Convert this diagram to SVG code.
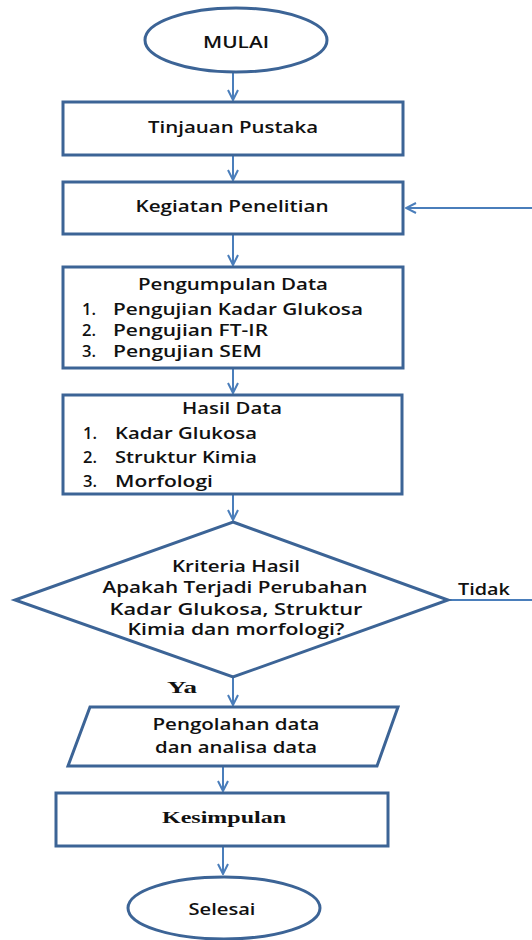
<svg xmlns="http://www.w3.org/2000/svg" width="532" height="940" viewBox="0 0 532 940">
<style>
.shape{fill:#fff;stroke:#3C6496;stroke-width:3}
.conn{fill:none;stroke:#4A7EBB;stroke-width:2}
.t{font-family:"Open Sans","Liberation Sans",sans-serif;font-weight:600;font-size:15.5px;fill:#111}
.s{font-family:"Liberation Serif",serif;font-weight:bold;font-size:16px;fill:#111}
.c{text-anchor:middle}
</style>
<defs>
<marker id="arr" viewBox="0 0 12 12" refX="11" refY="6" markerWidth="12" markerHeight="12" markerUnits="userSpaceOnUse" orient="auto">
<path d="M1,1 L11,6 L1,11" fill="none" stroke="#4A7EBB" stroke-width="2"/>
</marker>
</defs>
<g id="connectors">
<line class="conn" x1="233" y1="73" x2="233" y2="100" marker-end="url(#arr)"/>
<line class="conn" x1="233" y1="155" x2="233" y2="180" marker-end="url(#arr)"/>
<line class="conn" x1="233" y1="234" x2="233" y2="265" marker-end="url(#arr)"/>
<line class="conn" x1="233" y1="368" x2="233" y2="393" marker-end="url(#arr)"/>
<line class="conn" x1="233" y1="494" x2="233" y2="520" marker-end="url(#arr)"/>
<line class="conn" x1="233" y1="677" x2="233" y2="705" marker-end="url(#arr)"/>
<line class="conn" x1="223" y1="766" x2="223" y2="791" marker-end="url(#arr)"/>
<line class="conn" x1="223" y1="846" x2="223" y2="874" marker-end="url(#arr)"/>
<polyline class="conn" points="448,600 532,600"/>
<line class="conn" x1="532" y1="208" x2="406" y2="208" marker-end="url(#arr)"/>
<text class="t" x="458" y="595" textLength="52" lengthAdjust="spacingAndGlyphs">Tidak</text>
<text class="s" x="167" y="693" textLength="30" lengthAdjust="spacingAndGlyphs">Ya</text>
</g>
<g id="mulai">
<ellipse class="shape" cx="236" cy="40" rx="91" ry="32"/>
<text class="t c" x="236" y="48" textLength="66" lengthAdjust="spacingAndGlyphs">MULAI</text>
</g>
<g id="tinjauan">
<rect class="shape" x="63" y="102" width="340" height="53"/>
<text class="t c" x="233" y="133" textLength="170" lengthAdjust="spacingAndGlyphs">Tinjauan Pustaka</text>
</g>
<g id="kegiatan">
<rect class="shape" x="63" y="182" width="340" height="52"/>
<text class="t c" x="232" y="212" textLength="193" lengthAdjust="spacingAndGlyphs">Kegiatan Penelitian</text>
</g>
<g id="pengumpulan">
<rect class="shape" x="63" y="267" width="340" height="101"/>
<text class="t c" x="233" y="290" textLength="190" lengthAdjust="spacingAndGlyphs">Pengumpulan Data</text>
<text class="t" x="82" y="315" textLength="14" lengthAdjust="spacingAndGlyphs">1.</text>
<text class="t" x="113" y="315" textLength="250" lengthAdjust="spacingAndGlyphs">Pengujian Kadar Glukosa</text>
<text class="t" x="82" y="336" textLength="14" lengthAdjust="spacingAndGlyphs">2.</text>
<text class="t" x="113" y="336" textLength="155" lengthAdjust="spacingAndGlyphs">Pengujian FT-IR</text>
<text class="t" x="82" y="357" textLength="14" lengthAdjust="spacingAndGlyphs">3.</text>
<text class="t" x="113" y="357" textLength="149" lengthAdjust="spacingAndGlyphs">Pengujian SEM</text>
</g>
<g id="hasil">
<rect class="shape" x="63" y="395" width="339" height="99"/>
<text class="t c" x="232" y="414" textLength="100" lengthAdjust="spacingAndGlyphs">Hasil Data</text>
<text class="t" x="83" y="439" textLength="14" lengthAdjust="spacingAndGlyphs">1.</text>
<text class="t" x="115" y="439" textLength="142" lengthAdjust="spacingAndGlyphs">Kadar Glukosa</text>
<text class="t" x="83" y="463" textLength="14" lengthAdjust="spacingAndGlyphs">2.</text>
<text class="t" x="115" y="463" textLength="142" lengthAdjust="spacingAndGlyphs">Struktur Kimia</text>
<text class="t" x="83" y="487" textLength="14" lengthAdjust="spacingAndGlyphs">3.</text>
<text class="t" x="115" y="487" textLength="98" lengthAdjust="spacingAndGlyphs">Morfologi</text>
</g>
<g id="kriteria">
<polygon class="shape" points="233,522 448,600 233,677 15,600"/>
<text class="t c" x="236" y="572" textLength="128" lengthAdjust="spacingAndGlyphs">Kriteria Hasil</text>
<text class="t c" x="235" y="593" textLength="265" lengthAdjust="spacingAndGlyphs">Apakah Terjadi Perubahan</text>
<text class="t c" x="236" y="615" textLength="253" lengthAdjust="spacingAndGlyphs">Kadar Glukosa, Struktur</text>
<text class="t c" x="236" y="635" textLength="217" lengthAdjust="spacingAndGlyphs">Kimia dan morfologi?</text>
</g>
<g id="pengolahan">
<polygon class="shape" points="90,707 398,707 377,766 68,766"/>
<text class="t c" x="236" y="730" textLength="167" lengthAdjust="spacingAndGlyphs">Pengolahan data</text>
<text class="t c" x="236" y="753" textLength="162" lengthAdjust="spacingAndGlyphs">dan analisa data</text>
</g>
<g id="kesimpulan">
<rect class="shape" x="56" y="793" width="332" height="53"/>
<text class="s c" x="224" y="823" textLength="124" lengthAdjust="spacingAndGlyphs">Kesimpulan</text>
</g>
<g id="selesai">
<ellipse class="shape" cx="224" cy="908" rx="96" ry="31"/>
<text class="t c" x="222" y="915" textLength="67" lengthAdjust="spacingAndGlyphs">Selesai</text>
</g>
</svg>
